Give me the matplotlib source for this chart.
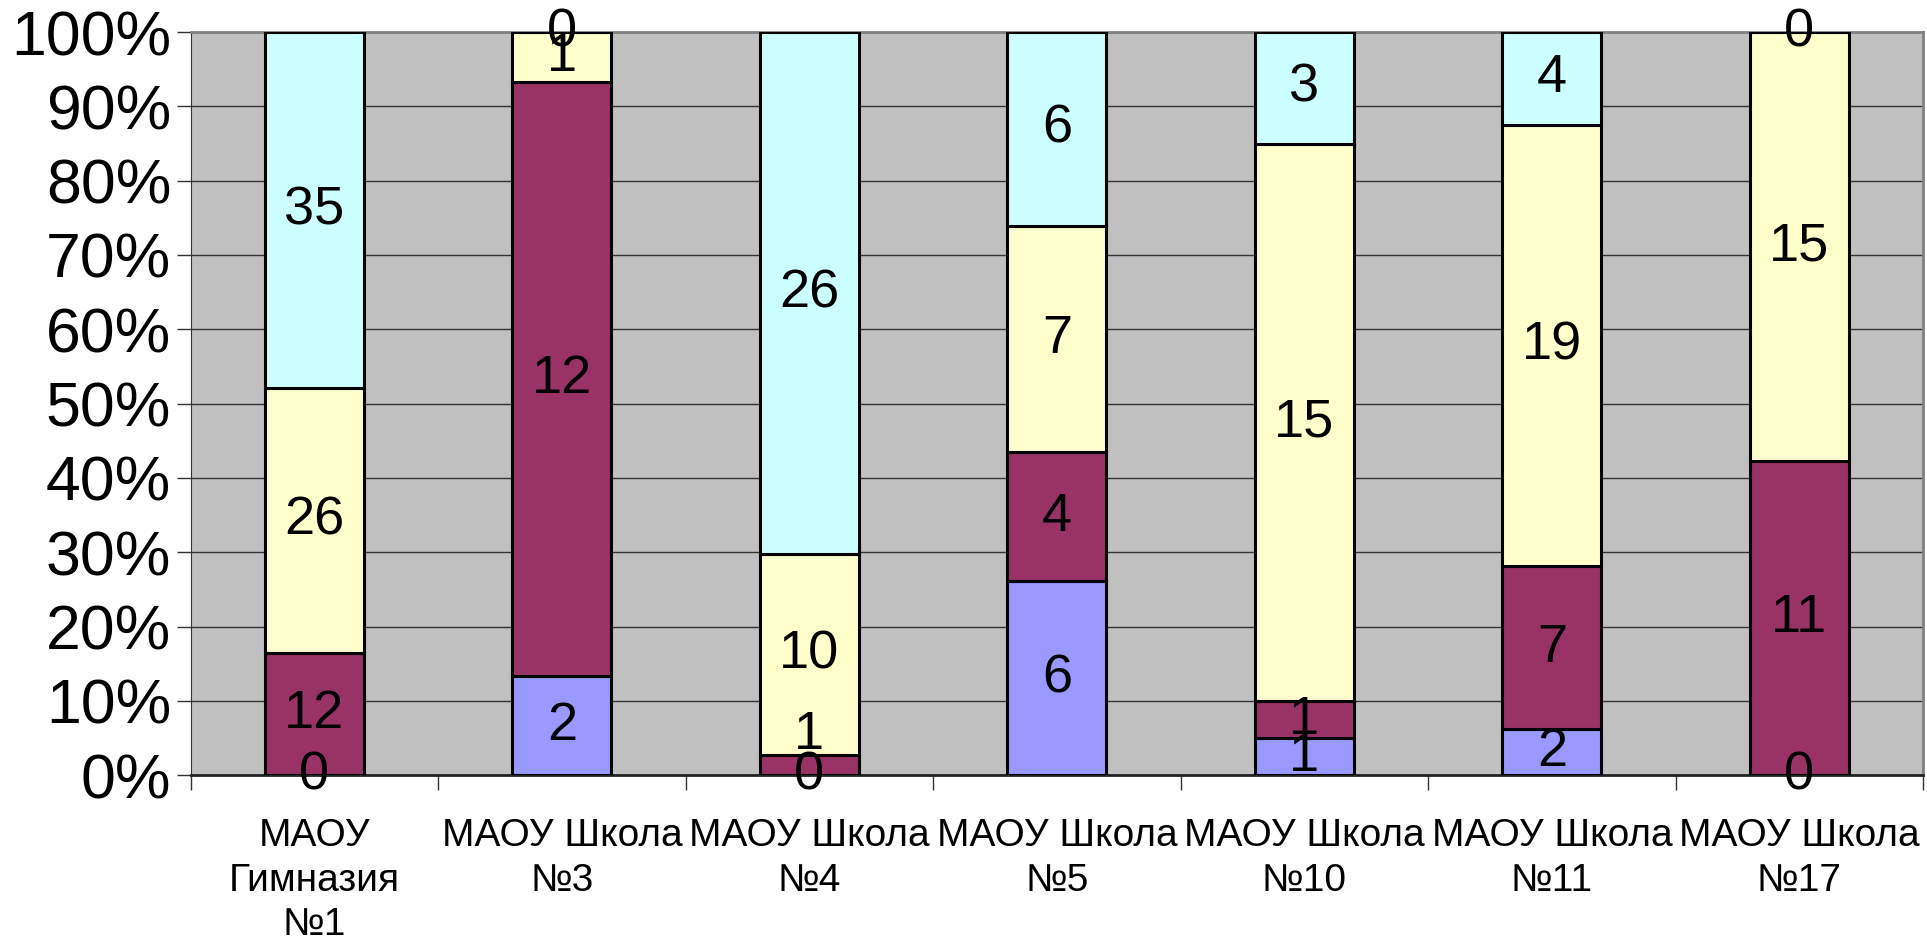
import numpy as np
import matplotlib.pyplot as plt
from matplotlib.ticker import FixedLocator, PercentFormatter

plt.rcParams['font.family'] = ['Liberation Sans', 'DejaVu Sans']

schools = ['МАОУ\nГимназия\n№1', 'МАОУ Школа\n№3', 'МАОУ Школа\n№4', 'МАОУ Школа\n№5',
           'МАОУ Школа\n№10', 'МАОУ Школа\n№11', 'МАОУ Школа\n№17']

# counts per group, bottom to top
s_blue = [0, 2, 0, 6, 1, 2, 0]
s_maroon = [12, 12, 1, 4, 1, 7, 11]
s_yellow = [26, 1, 10, 7, 15, 19, 15]
s_cyan = [35, 0, 26, 6, 3, 4, 0]

series = [s_blue, s_maroon, s_yellow, s_cyan]
colors = ['#9999FF', '#993366', '#FFFFCC', '#CCFFFF']

# the label of the thin maroon piece in №4 sits a bit higher in the original
label_shift = {(1, 2): 22}

data = np.array(series, dtype=float)
totals = data.sum(axis=0)
shares = data / totals * 100

fig = plt.figure(figsize=(19.27, 9.42), dpi=100)
ax = fig.add_axes([0.0989, 0.177, 0.8991, 0.789])
ax.set_facecolor('#C0C0C0')

x = np.arange(len(schools))
bottom = np.zeros(len(schools))
for si, (vals, pct, col) in enumerate(zip(series, shares, colors)):
    ax.bar(x, pct, bottom=bottom, width=0.4, color=col, edgecolor='black',
           linewidth=2.2, zorder=3)
    for xi, b, p, v in zip(x, bottom, pct, vals):
        ax.annotate(str(v), (xi, b + p / 2), xytext=(0, label_shift.get((si, xi), 0)),
                    textcoords='offset points', ha='center', va='center',
                    fontsize=39, zorder=4)
    bottom += pct

ax.set_xlim(-0.5, len(schools) - 0.5)
ax.set_ylim(0, 100)
ax.yaxis.set_major_locator(FixedLocator(np.arange(0, 101, 10)))
ax.yaxis.set_major_formatter(PercentFormatter(decimals=0))
ax.yaxis.grid(True, color='#333333', linewidth=1, zorder=1)

ax.set_xticks(x)
ax.set_xticklabels(schools, fontsize=28, linespacing=1.3)
ax.tick_params(axis='x', length=0, pad=31)
ax.xaxis.set_minor_locator(FixedLocator(np.arange(-0.5, len(schools), 1)))
ax.tick_params(axis='x', which='minor', length=11, width=1, color='#333333')
ax.tick_params(axis='y', labelsize=45, length=10, width=1, color='#333333', pad=4)

for side in ['top', 'right']:
    ax.spines[side].set_color('#808080')
    ax.spines[side].set_linewidth(2)
ax.spines['left'].set_color('#333333')
ax.spines['bottom'].set_color('#222222')
ax.spines['bottom'].set_linewidth(2)

fig.savefig('out.png', dpi=100)
